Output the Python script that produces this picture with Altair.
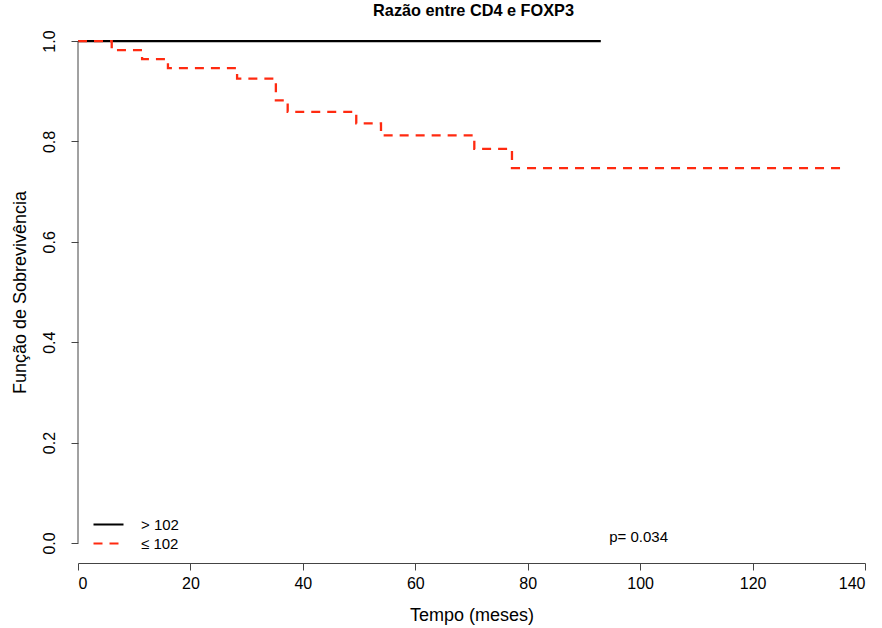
import altair as alt
import pandas as pd

chart_title = "Razão entre CD4 e FOXP3"
x_title = "Tempo (meses)"
y_title = "Função de Sobrevivência"
groups = ["> 102", "≤ 102"]
colors = ["#000000", "#FF2A10"]
dashes = [[1, 0], [9, 7]]

# Kaplan-Meier step curves (time in months, survival)
t_high = [0, 93]
s_high = [1.0, 1.0]
t_low = [0, 6, 11.4, 16, 28.3, 35.2, 37.3, 49.5, 53.9, 70.5, 77.2, 136]
s_low = [1.0, 0.982, 0.964, 0.946, 0.925, 0.882, 0.859, 0.836, 0.812, 0.785, 0.747, 0.747]

x_ticks = [0, 20, 40, 60, 80, 100, 120, 140]
y_ticks = [0.0, 0.2, 0.4, 0.6, 0.8, 1.0]
p_label = "p= 0.034"

df = pd.concat([
    pd.DataFrame({"t": t_high, "s": s_high, "g": groups[0]}),
    pd.DataFrame({"t": t_low, "s": s_low, "g": groups[1]}),
])

FONT = "Liberation Sans"
x_scale = alt.Scale(domain=[0, 140], nice=False, zero=False)
y_scale = alt.Scale(domain=[-0.04, 1.04], nice=False, zero=False)

legend = alt.Legend(
    orient="none", legendX=14, legendY=494, title=None,
    symbolType="stroke", symbolSize=900, symbolStrokeWidth=2.2,
    clipHeight=19, labelFontSize=15, labelFont=FONT, labelColor="#000",
    labelOffset=16, padding=0, rowPadding=0,
)

lines = alt.Chart(df).mark_line(interpolate="step-after", strokeWidth=2.3).encode(
    x=alt.X("t:Q", scale=x_scale, title=x_title,
            axis=alt.Axis(values=x_ticks, format="d", grid=False, tickSize=7,
                          labelPadding=5, titlePadding=15)),
    y=alt.Y("s:Q", scale=y_scale, title=y_title,
            axis=alt.Axis(values=y_ticks, format=".1f", grid=False, domain=False,
                          tickSize=7, labelAngle=270, labelAlign="center",
                          labelBaseline="bottom", labelPadding=14, titlePadding=12)),
    color=alt.Color("g:N", scale=alt.Scale(domain=groups, range=colors), legend=legend),
    strokeDash=alt.StrokeDash("g:N", scale=alt.Scale(domain=groups, range=dashes), legend=legend),
    order=alt.Order("t:Q"),
)

yaxis_line = alt.Chart().mark_rule(color="#444", strokeWidth=1).encode(
    x=alt.datum(0), y=alt.datum(0), y2=alt.datum(1)
)

ptext = alt.Chart().mark_text(align="left", baseline="middle", fontSize=15, font=FONT,
                              color="#000").encode(
    x=alt.datum(94.5), y=alt.datum(0.012), text=alt.value(p_label)
)

chart = alt.layer(lines, yaxis_line, ptext).properties(
    width=787, height=542,
    background="white",
    title=alt.TitleParams(chart_title, fontSize=16.3, fontWeight="bold", font=FONT,
                          anchor="middle", offset=2, dx=2, color="#000"),
    autosize=alt.AutoSizeParams(type="none"),
    padding={"left": 78, "top": 21, "right": 17, "bottom": 65},
).configure_view(stroke=None).configure_axis(
    domainColor="#444", tickColor="#444", labelFont=FONT, titleFont=FONT,
    labelFontSize=16, titleFontSize=18, labelColor="#000", titleColor="#000",
    titleFontWeight="normal",
)

chart.save("out.html", embed_options={"renderer": "svg", "actions": False})
